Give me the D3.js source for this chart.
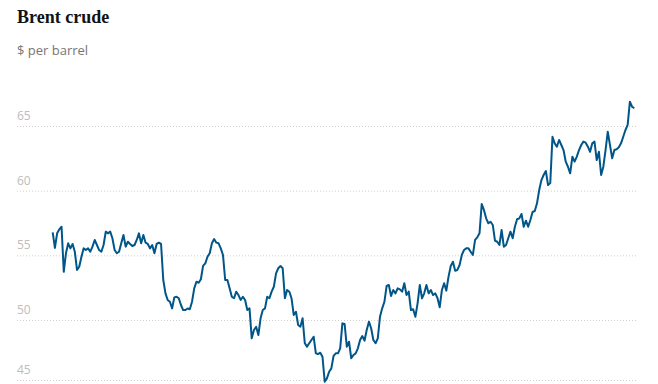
<!DOCTYPE html>
<html>
<head>
<meta charset="utf-8">
<script src="https://cdn.jsdelivr.net/npm/d3@7"></script>
<style>
  body { margin: 0; background: #fff; }
  svg { display: block; }
</style>
</head>
<body>
<script>
// Brent crude, daily closes (2017), $ per barrel
const prices = [
  56.78, 55.57, 56.70, 57.01, 57.21, 53.73, 55.16, 55.93, 55.54, 55.88,
  55.28, 53.87, 54.12, 54.89, 55.54, 55.41, 55.54, 55.28, 55.67, 56.19,
  55.80, 55.41, 55.28, 55.80, 56.83, 56.70, 56.83, 56.32, 55.41, 55.16,
  55.28, 55.93, 56.57, 55.67, 56.05, 55.88, 55.72, 55.80, 56.19, 56.70,
  55.93, 56.57, 55.98, 55.88, 55.54, 55.80, 55.16, 55.88, 55.98, 55.88,
  53.09, 52.06, 51.55, 51.41, 50.90, 51.75, 51.80, 51.68, 51.16, 50.77,
  50.77, 50.89, 50.83, 51.41, 52.45, 52.96, 52.88, 53.15, 54.18, 54.38,
  54.89, 55.16, 55.93, 56.26, 55.98, 55.93, 55.54, 55.03, 53.09, 53.09,
  52.45, 51.80, 51.68, 52.19, 51.93, 51.55, 51.80, 51.55, 50.77, 50.90,
  48.58, 49.23, 49.48, 48.84, 50.13, 50.77, 50.90, 51.80, 51.68, 52.19,
  52.57, 53.61, 54.00, 54.18, 54.00, 51.68, 52.32, 52.19, 51.68, 50.39,
  50.64, 49.61, 49.48, 50.13, 48.20, 47.94, 48.20, 48.45, 48.71, 47.42,
  47.37, 47.47, 47.16, 45.23, 45.49, 46.00, 46.26, 47.22, 47.42, 47.42,
  47.81, 49.74, 49.69, 47.94, 48.32, 47.04, 47.29, 47.42, 47.81, 48.45,
  48.76, 48.40, 49.23, 49.87, 49.36, 48.45, 48.20, 48.58, 50.25, 50.90,
  51.41, 52.63, 52.71, 51.86, 52.32, 52.06, 52.45, 52.37, 52.19, 52.84,
  51.93, 52.19, 50.77, 50.83, 50.25, 51.29, 52.71, 51.68, 52.06, 52.71,
  52.06, 52.32, 51.93, 52.06, 51.70, 50.98, 52.32, 52.84, 52.27, 53.35,
  54.18, 54.51, 53.81, 53.87, 54.25, 55.03, 55.41, 55.54, 55.54, 55.28,
  55.03, 56.19, 56.39, 56.70, 58.97, 58.51, 57.86, 57.48, 57.60, 57.35,
  56.13, 56.05, 55.80, 56.96, 55.67, 55.80, 56.32, 56.83, 56.32, 57.21,
  57.79, 57.86, 58.20, 57.21, 57.68, 57.21, 57.73, 58.35, 58.43, 59.02,
  60.05, 60.82, 61.21, 61.52, 60.44, 60.59, 64.17, 63.66, 63.40, 63.92,
  63.53, 63.14, 62.24, 61.85, 61.34, 62.63, 62.24, 62.63, 63.14, 63.53,
  63.79, 63.71, 63.40, 63.01, 63.66, 63.79, 62.37, 63.01, 61.21, 61.85,
  63.14, 64.56, 63.53, 62.50, 63.14, 63.20, 63.35, 63.66, 64.17, 64.69,
  65.08, 66.88, 66.49, 66.37
];
const yTicks = [45, 50, 55, 60, 65];
const title = 'Brent crude';
const subtitle = '$ per barrel';

const width = 658;
const height = 384;
const margins = {
  left: 17,
  right: 22,
  bottom: 4,
};
const lineStart = 52.7;
const lineEnd = 634.3;
const plotBottom = height - margins.bottom;

const xScale = d3.scaleLinear([0, prices.length - 1], [lineStart, lineEnd]);
const yScale = d3.scaleLinear([50, 65], [320, 126]);

const svg = d3.create('svg')
  .attr('width', width)
  .attr('height', height);

// headline + unit
svg.append('text')
  .attr('x', margins.left)
  .attr('y', 23)
  .attr('font-family', 'Liberation Serif, serif')
  .attr('font-weight', 'bold')
  .attr('font-size', 18)
  .attr('fill', '#121212')
  .text(title);

svg.append('text')
  .attr('x', margins.left)
  .attr('y', 55)
  .attr('font-family', 'Open Sans, sans-serif')
  .attr('font-size', 13)
  .attr('fill', '#767676')
  .text(subtitle);

// gridlines, bottom one sits on the plot edge
const gridY = d => Math.min(yScale(d), plotBottom);

const grid = svg.append('g').attr('id', 'grid');

grid.selectAll('line')
  .data(yTicks)
  .join('line')
  .attr('x1', margins.left)
  .attr('x2', width - margins.right)
  .attr('y1', d => gridY(d) + 0.5)
  .attr('y2', d => gridY(d) + 0.5)
  .attr('stroke', '#cfcfcf')
  .attr('stroke-width', 1)
  .attr('stroke-dasharray', '1,2');

grid.selectAll('text')
  .data(yTicks)
  .join('text')
  .attr('x', margins.left)
  .attr('y', d => gridY(d) - 6)
  .attr('font-family', 'Open Sans, sans-serif')
  .attr('font-size', 12)
  .attr('fill', '#bdbdbd')
  .text(d => d);

// price line
const line = d3.line()
  .x((d, i) => xScale(i))
  .y(d => yScale(d));

svg.append('path')
  .datum(prices)
  .attr('d', line)
  .attr('fill', 'none')
  .attr('stroke', '#005689')
  .attr('stroke-width', 2)
  .attr('stroke-linejoin', 'round');

document.body.append(svg.node());
</script>
</body>
</html>
